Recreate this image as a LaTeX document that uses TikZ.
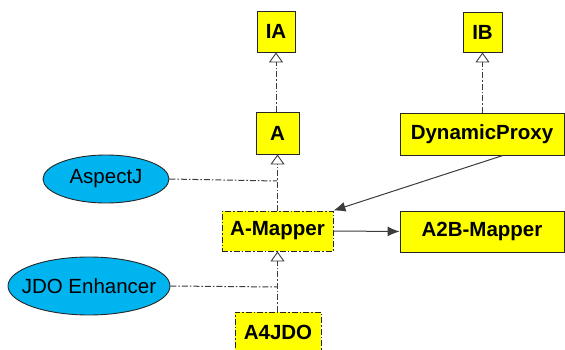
\documentclass[tikz,border=0pt]{standalone}
\usepackage{fontspec}
\setmainfont{Liberation Sans}
\usetikzlibrary{arrows.meta,shapes.geometric}
\definecolor{boxyellow}{RGB}{255,255,0}
\definecolor{ellblue}{RGB}{0,180,240}
\definecolor{linegray}{RGB}{60,60,60}
\tikzset{
  cls/.style={draw=black!85, line width=0.9pt, fill=boxyellow, font=\fontsize{20.5}{22}\selectfont\bfseries, inner sep=0pt, align=center},
  dashcls/.style={cls, dash pattern=on 6pt off 2pt on 1.5pt off 2pt},
  ell/.style={ellipse, draw=black!85, line width=0.9pt, fill=ellblue, font=\fontsize{20.5}{22}\selectfont, inner sep=0pt},
  realize/.style={draw=linegray, line width=1pt, dash pattern=on 6pt off 2pt on 1.5pt off 2pt},
  realarrow/.style={realize, -{Triangle[open, width=14pt, length=10pt, line width=0.9pt]}},
  assoc/.style={draw=linegray, line width=1pt, -{Latex[width=10pt, length=12pt]}}
}
\begin{document}
\begin{tikzpicture}[x=1pt, y=-1pt]
\useasboundingbox (0,0) rectangle (565,350);
\node[cls, minimum width=38pt, minimum height=41pt] (ia) at (276,31.5) {IA};
\node[cls, minimum width=43pt, minimum height=42pt] (a) at (277.5,133) {A};
\node[cls, minimum width=39pt, minimum height=40pt] (ib) at (482.5,32) {IB};
\node[cls, minimum width=164pt, minimum height=42pt] (dp) at (482,134) {DynamicProxy};
\node[dashcls, minimum width=111pt, minimum height=40pt] (am) at (277.5,231) {A-Mapper};
\node[cls, minimum width=164pt, minimum height=41pt] (a2b) at (482,231.5) {A2B-Mapper};
\node[dashcls, minimum width=86pt, minimum height=40pt] (a4) at (278,332) {A4JDO};
\node[ell, minimum width=126pt, minimum height=48pt] (aj) at (106,179) {\makebox[0pt]{AspectJ}};
\node[ell, minimum width=162pt, minimum height=58pt] (jdo) at (89,286) {\makebox[0pt]{JDO Enhancer}};
\coordinate (j1) at (277,181);
\coordinate (j2) at (277,287);
\draw[realarrow] (a.north -| ia.south) -- (ia.south);
\draw[realarrow] (dp.north -| ib.south) -- (ib.south);
\draw[realarrow] (am.north -| a.south) -- (a.south);
\draw[realarrow] (a4.north -| am.south) -- (am.south);
\draw[realize] (aj.east) -- (j1);
\draw[realize] (jdo.east) -- (j2);
\draw[assoc] ([xshift=21pt]dp.south) -- (am.north east);
\draw[assoc] (am.east) -- (a2b.west);
\end{tikzpicture}
\end{document}
